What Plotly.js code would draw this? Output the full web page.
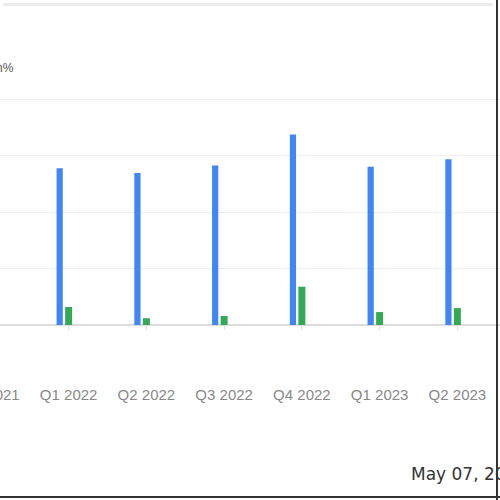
<!DOCTYPE html>
<html>
<head>
<meta charset="utf-8">
<script src="https://cdn.plot.ly/plotly-3.0.1.min.js"></script>
<style>
  html, body { margin: 0; padding: 0; width: 500px; height: 500px; overflow: hidden; background: #fff; }
  #wrap { position: relative; width: 500px; height: 500px; overflow: hidden; }
  #chart { position: absolute; left: -108px; top: 0; width: 702px; height: 500px; }
  .edge { position: absolute; }
</style>
</head>
<body>
<div id="wrap">
  <div id="chart"></div>
  <div class="edge" style="left:3px; top:3px; width:490px; height:3px; background:#ececec;"></div>
  <div class="edge" style="left:496px; top:0; width:2px; height:500px; background:#333;"></div>
  <div class="edge" style="left:0; top:496px; width:500px; height:2px; background:#333;"></div>
</div>
<script>
// quarters (first and last are only partly in view)
var quarters = ['Q4 2021', 'Q1 2022', 'Q2 2022', 'Q3 2022', 'Q4 2022', 'Q1 2023', 'Q2 2023', 'Q3 2023'];
// blue series
var blueValues = [null, 27.8, 27.0, 28.3, 33.8, 28.1, 29.4, null];
// green series
var greenValues = [null, 3.2, 1.2, 1.6, 6.8, 2.3, 3.0, null];
var dateLabel = 'May 07, 2024';
var axisNote = 'Growth%';

var blueTrace = {
    type: 'bar',
    x: quarters,
    y: blueValues,
    width: 0.08,
    offset: -0.155,
    marker: { color: '#4285F4' },
    hoverinfo: 'x+y'
};
var greenTrace = {
    type: 'bar',
    x: quarters,
    y: greenValues,
    width: 0.09,
    offset: -0.045,
    marker: { color: '#34A853' },
    hoverinfo: 'x+y'
};

var layout = {
    width: 702,
    height: 500,
    margin: { l: 60, r: 20, t: 94, b: 175 },
    paper_bgcolor: 'rgba(0,0,0,0)',
    plot_bgcolor: 'rgba(0,0,0,0)',
    showlegend: false,
    barmode: 'overlay',
    font: { family: 'Arial, Liberation Sans, sans-serif', color: '#888' },
    xaxis: {
        type: 'category',
        range: [-0.5, 7.5],
        showgrid: false,
        showline: false,
        ticks: 'outside',
        ticklen: 4,
        tickcolor: '#ddd',
        ticklabelstandoff: 52,
        tickfont: { size: 15, color: '#888' }
    },
    yaxis: {
        range: [0, 41],
        dtick: 10,
        gridcolor: '#efefef',
        zeroline: true,
        zerolinecolor: '#dcdcdc',
        zerolinewidth: 2,
        showline: false,
        showticklabels: false
    },
    annotations: [
        {
            xref: 'paper', yref: 'paper',
            x: (409 + 48) / 622, y: (325 - 474) / 231,
            xanchor: 'left', yanchor: 'middle',
            text: dateLabel, showarrow: false,
            font: { family: 'DejaVu Sans, sans-serif', size: 17, color: '#333' }
        },
        {
            xref: 'paper', yref: 'paper',
            x: (16 + 48) / 622, y: (325 - 68) / 231,
            xanchor: 'right', yanchor: 'middle',
            text: axisNote, showarrow: false,
            font: { family: 'Arial, sans-serif', size: 12, color: '#555' }
        }
    ]
};

Plotly.newPlot('chart', [blueTrace, greenTrace], layout, { displayModeBar: false, staticPlot: true });
</script>
</body>
</html>
